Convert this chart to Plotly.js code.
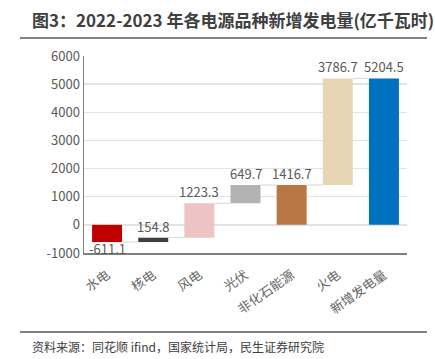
<!DOCTYPE html>
<html>
<head>
<meta charset="utf-8">
<script src="https://cdn.plot.ly/plotly-3.0.1.min.js"></script>
<style>
html,body{margin:0;padding:0;background:#fff;}
#chart{width:435px;height:359px;}
</style>
</head>
<body>
<div id="chart"></div>
<script>
const categories = ['水电','核电','风电','光伏','非化石能源','火电','新增发电量'];
const values = [-611.1, 154.8, 1223.3, 649.7, 1416.7, 3786.7, 5204.5];
const measures = ['relative','relative','relative','relative','total','relative','total'];
const colors = ['#C00000','#404040','#EDC3C3','#B3B3B3','#B97746','#E8D5B4','#0070C0'];
const yTicks = [-1000, 0, 1000, 2000, 3000, 4000, 5000, 6000];

// compute bar bases and ends from data
const bases = [], ends = [];
let running = 0;
for (let i = 0; i < values.length; i++) {
  if (measures[i] === 'total') {
    bases.push(0);
    ends.push(values[i]);
    running = values[i];
  } else {
    bases.push(running);
    running += values[i];
    ends.push(running);
  }
}

const barWidth = 0.65;
const shapes = [];
// connectors
for (let i = 0; i < values.length - 1; i++) {
  const level = ends[i];
  shapes.push({
    type: 'line', xref: 'x', yref: 'y',
    x0: i + barWidth / 2, x1: i + 1 - barWidth / 2,
    y0: level, y1: level,
    line: {color: '#D9D9D9', width: 1}
  });
}
// title underline and footer line
shapes.push({type:'line', xref:'paper', yref:'paper', x0:-64/323, x1:343/323, y0:1+(56-38)/197, y1:1+(56-38)/197, line:{color:'#595959', width:1.5}});
shapes.push({type:'line', xref:'paper', yref:'paper', x0:-64/323, x1:343/323, y0:-(332-253)/197, y1:-(332-253)/197, line:{color:'#595959', width:1.5}});

const trace = {
  type: 'bar',
  x: categories,
  y: values.map((v, i) => ends[i] - bases[i]),
  base: bases,
  width: barWidth,
  marker: {color: colors, line: {width: 0}},
  textposition: 'none',
  cliponaxis: false,
  hoverinfo: 'none'
};

// value labels from the data
const labelAnns = values.map((v, i) => {
  const neg = v < 0;
  const yv = neg ? Math.min(bases[i], ends[i]) : Math.max(bases[i], ends[i]);
  return {
    xref: 'x', yref: 'y', x: categories[i], y: yv,
    text: v.toFixed(1), showarrow: false,
    yanchor: neg ? 'top' : 'bottom',
    yshift: neg ? 5 : 0,
    font: {family: 'Noto Sans CJK SC, Noto Sans, sans-serif', size: 13, color: '#595959'}
  };
});

const layout = {
  width: 435, height: 359,
  margin: {l: 84, r: 28, t: 56, b: 106},
  paper_bgcolor: '#fff', plot_bgcolor: '#fff',
  showlegend: false,
  font: {family: 'Noto Sans CJK SC, Noto Sans, sans-serif', color: '#595959'},
  xaxis: {
    type: 'category',
    tickangle: -35,
    tickfont: {size: 13, color: '#666666'},
    showline: true, linecolor: '#808080', linewidth: 1.5,
    ticks: 'outside', ticklen: 8, tickcolor: 'rgba(0,0,0,0)',
    showgrid: false, zeroline: false
  },
  yaxis: {
    range: [-1000, 6000],
    tickvals: yTicks,
    ticktext: yTicks.map(String),
    tickfont: {size: 13, color: '#595959'},
    showline: true, linecolor: '#808080', linewidth: 1.5,
    showgrid: true, gridcolor: '#E3E3E3', gridwidth: 1.5,
    zeroline: false, ticks: '', ticklen: 0
  },
  shapes: shapes,
  annotations: labelAnns.concat([
    {
      text: '<b>图3：2022-2023 年各电源品种新增发电量(亿千瓦时)</b>',
      xref: 'paper', yref: 'paper',
      x: -54/323, y: 1 + (56-20)/197, xanchor: 'left', yanchor: 'middle',
      showarrow: false,
      font: {family: 'Noto Sans CJK SC, sans-serif', size: 17, color: '#404040'}
    },
    {
      text: '资料来源：同花顺 ifind，国家统计局，民生证券研究院',
      xref: 'paper', yref: 'paper',
      x: -54/323, y: -(346-253)/197, xanchor: 'left', yanchor: 'middle',
      showarrow: false,
      font: {family: 'Noto Sans CJK SC, sans-serif', size: 12, color: '#404040'}
    }
  ])
};

Plotly.newPlot('chart', [trace], layout, {displayModeBar: false, staticPlot: true});
</script>
</body>
</html>
